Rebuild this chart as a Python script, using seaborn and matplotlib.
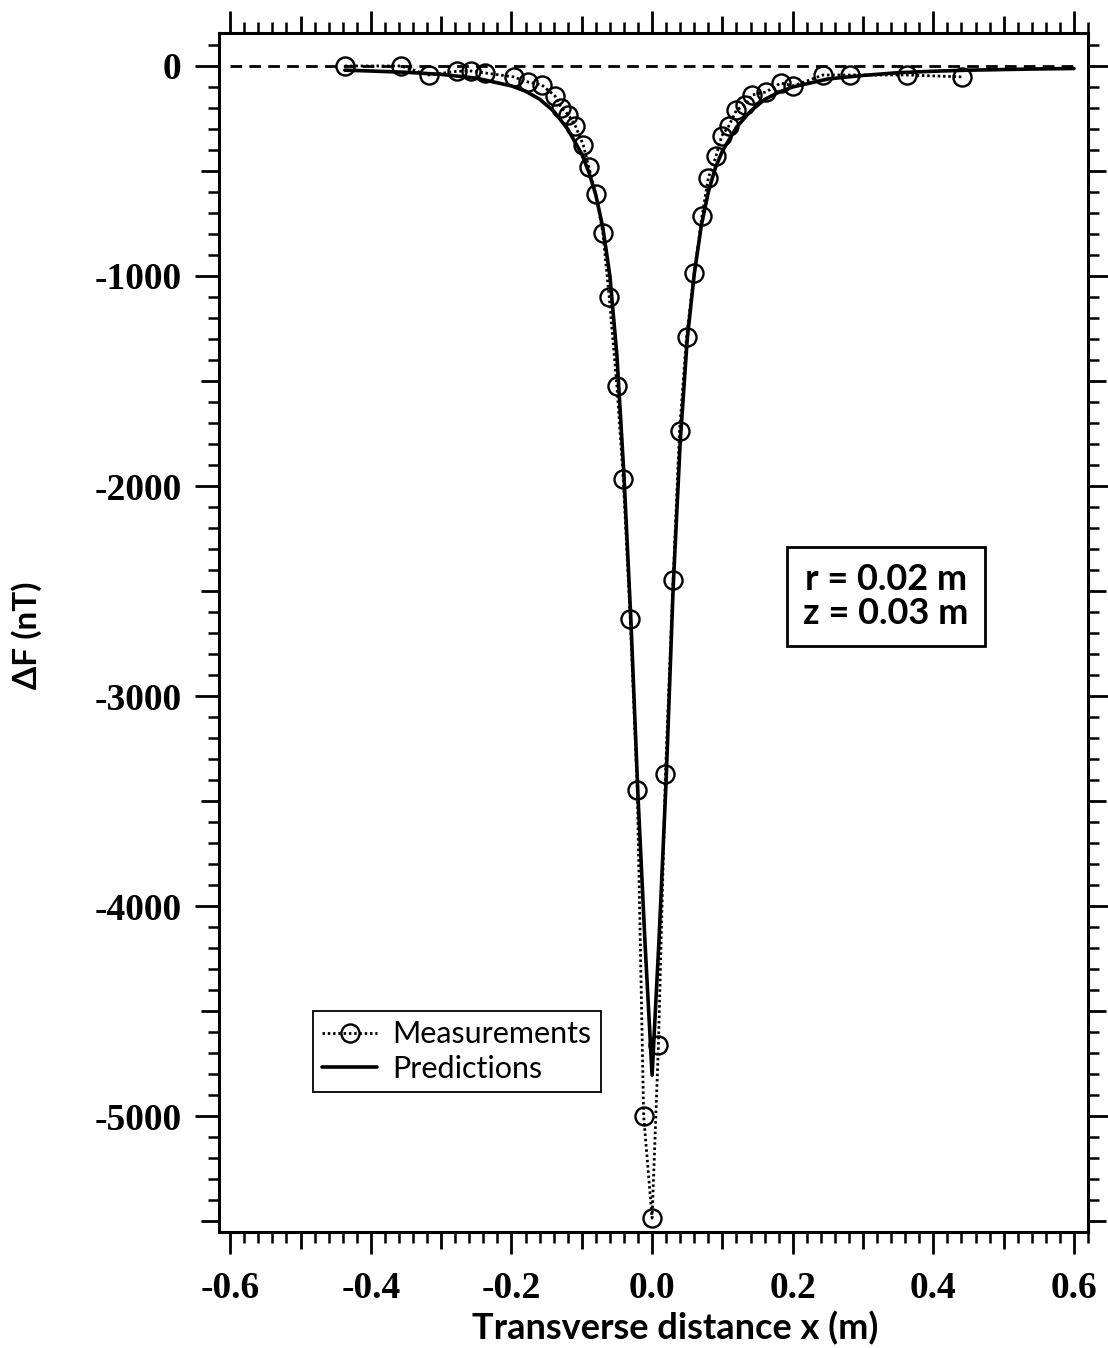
import numpy as np
import pandas as pd
import matplotlib
matplotlib.use("Agg")
import matplotlib.pyplot as plt
from matplotlib.ticker import MultipleLocator, FuncFormatter
import seaborn as sns

# Measured anomaly along the transverse profile
meas_x = [-0.437, -0.357, -0.318, -0.277, -0.257, -0.238, -0.197, -0.177, -0.157,
          -0.138, -0.129, -0.119, -0.109, -0.098, -0.090, -0.080, -0.070, -0.061,
          -0.050, -0.041, -0.031, -0.021, -0.012, 0.000, 0.009, 0.019, 0.030,
          0.039, 0.049, 0.060, 0.071, 0.080, 0.091, 0.099, 0.109, 0.120, 0.132,
          0.142, 0.162, 0.183, 0.201, 0.243, 0.281, 0.363, 0.441]
meas_y = [0, 0, -43, -25, -24, -33, -52, -76, -90,
          -143, -200, -233, -286, -376, -481, -610, -795, -1100,
          -1524, -1967, -2633, -3448, -5000, -5486, -4662, -3371, -2448,
          -1738, -1290, -986, -714, -533, -429, -333, -286, -210, -186,
          -138, -124, -81, -95, -43, -43, -43, -52]

# Model predictions (r = 0.02 m, z = 0.03 m)
pred_x = [-0.437, -0.40, -0.35, -0.30, -0.25, -0.20, -0.18, -0.16, -0.14, -0.12,
          -0.10, -0.09, -0.08, -0.07, -0.06, -0.05, -0.04, -0.03, -0.02, -0.01,
          0.00, 0.01, 0.02, 0.03, 0.04, 0.05, 0.06, 0.07, 0.08, 0.09,
          0.10, 0.12, 0.14, 0.16, 0.18, 0.20, 0.25, 0.30, 0.35, 0.40,
          0.45, 0.50, 0.55, 0.60]
pred_y = [-20, -24, -30, -40, -58, -95, -120, -158, -215, -300,
          -420, -505, -615, -770, -1000, -1380, -1950, -2650, -3480, -4180,
          -4805, -4150, -3400, -2480, -1790, -1300, -990, -760, -600, -485,
          -405, -292, -215, -160, -125, -100, -62, -45, -32, -25,
          -20, -17, -14, -12]

x_ticks = [-0.6, -0.4, -0.2, 0.0, 0.2, 0.4, 0.6]
y_ticks = [0, -1000, -2000, -3000, -4000, -5000]

meas = pd.DataFrame({"x": meas_x, "dF": meas_y})
pred = pd.DataFrame({"x": pred_x, "dF": pred_y})

sns.set_theme(style="ticks")
plt.rcParams["font.family"] = ["Lato", "DejaVu Sans"]
plt.rcParams["axes.unicode_minus"] = False
for key in ("text.color", "axes.labelcolor", "xtick.color", "ytick.color",
            "axes.edgecolor", "xtick.labelcolor", "ytick.labelcolor"):
    plt.rcParams[key] = "black"

fig = plt.figure(figsize=(11.08, 13.48), dpi=100)
ax = fig.add_axes([219 / 1108, 1 - 1232 / 1348, (1088 - 219) / 1108, (1232 - 33) / 1348])

# zero reference
ax.hlines(0, x_ticks[0], x_ticks[-1], colors="black", linestyles=(0, (4.2, 2.6)),
          lw=2.0, zorder=1)

sns.lineplot(data=meas, x="x", y="dF", ax=ax, sort=False, estimator=None,
             color="black", lw=2.0, linestyle=(0, (0.9, 1.0)),
             marker="o", markersize=13, markerfacecolor="none",
             markeredgecolor="black", markeredgewidth=1.7,
             label="Measurements", zorder=3)
sns.lineplot(data=pred, x="x", y="dF", ax=ax, sort=False, estimator=None,
             color="black", lw=2.6, label="Predictions", zorder=2)

ax.set_xlim(-0.616, 0.620)
ax.set_ylim(-5552, 157)

# axis frame and ticks
for sp in ax.spines.values():
    sp.set_visible(True)
    sp.set_linewidth(2.2)
    sp.set_color("black")

ax.xaxis.set_major_locator(MultipleLocator(0.1))
ax.xaxis.set_minor_locator(MultipleLocator(0.02))
ax.yaxis.set_major_locator(MultipleLocator(500))
ax.yaxis.set_minor_locator(MultipleLocator(100))

def fmt_x(v, pos):
    k = int(round(v * 10))
    if k % 2:
        return ""
    return f"{abs(v):.1f}" if k == 0 else f"{v:.1f}"

def fmt_y(v, pos):
    k = int(round(v))
    if k % 1000:
        return ""
    return f"{k:d}"

ax.xaxis.set_major_formatter(FuncFormatter(fmt_x))
ax.yaxis.set_major_formatter(FuncFormatter(fmt_y))

ax.tick_params(which="both", direction="out", top=True, right=True, color="black",
               width=2.0, labelcolor="black")
ax.tick_params(axis="x", which="major", length=16, pad=12)
ax.tick_params(axis="y", which="major", length=17, pad=10)
ax.tick_params(which="minor", length=8, width=1.8)
ax.tick_params(labelsize=27)
plt.setp(ax.get_xticklabels(), family="Liberation Serif", weight="bold")
plt.setp(ax.get_yticklabels(), family="Liberation Serif", weight="bold")

fig.canvas.draw()
# intermediate ticks between labelled values are drawn shorter
for t in ax.xaxis.get_major_ticks():
    if int(round(t.get_loc() * 10)) % 2:
        t.tick1line.set_markersize(12)
        t.tick2line.set_markersize(12)
for t in ax.yaxis.get_major_ticks():
    if int(round(t.get_loc())) % 1000:
        t.tick1line.set_markersize(13)
        t.tick2line.set_markersize(13)

ax.set_xlabel("Transverse distance x (m)", fontsize=26, fontweight="bold", color="black")
ax.set_ylabel("ΔF (nT)", fontsize=24, fontweight="bold", color="black")
ax.xaxis.set_label_coords(0.525, -0.0660)
ax.yaxis.set_label_coords(-0.204, 0.498)

ax.text(0.7675, 0.530, "r = 0.02 m\nz = 0.03 m", transform=ax.transAxes,
        ha="center", va="center", fontsize=26, fontweight="bold", color="black",
        linespacing=1.05, multialignment="center",
        bbox=dict(boxstyle="square,pad=0.45", fc="white", ec="black", lw=2.0))

leg = ax.legend(loc="lower left", bbox_to_anchor=(0.108, 0.117), borderaxespad=0,
                frameon=True, fancybox=False, edgecolor="black", framealpha=1,
                handlelength=1.8, handletextpad=0.5, borderpad=0.3,
                labelspacing=0.2, prop={"family": "Lato", "size": 22})
leg.get_frame().set_linewidth(1.3)
for txt in leg.get_texts():
    txt.set_color("black")

fig.savefig("out.png", dpi=100, facecolor="white")
